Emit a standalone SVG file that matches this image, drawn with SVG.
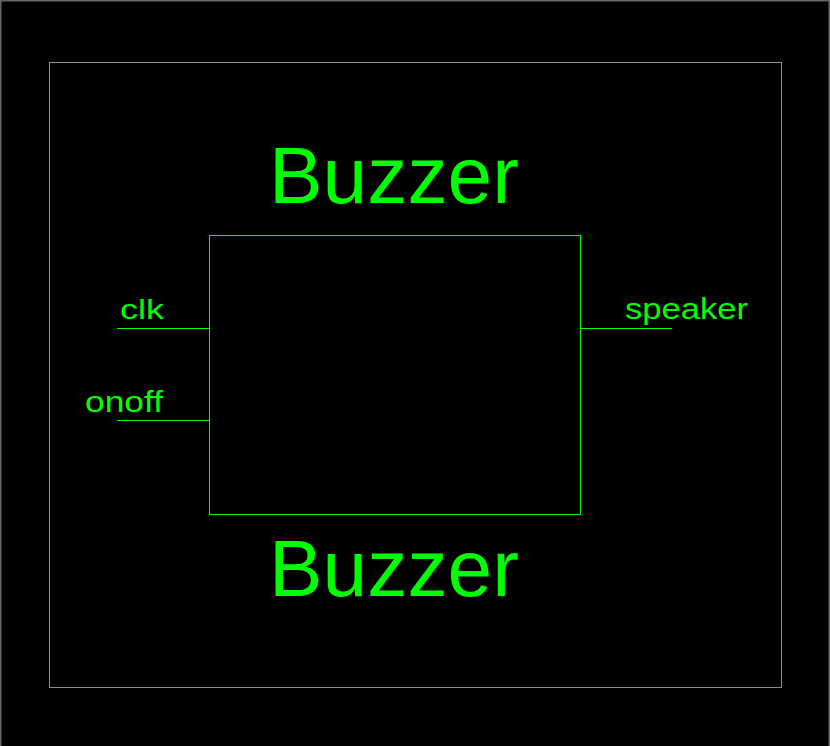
<svg xmlns="http://www.w3.org/2000/svg" width="830" height="746" viewBox="0 0 830 746">
<style>
.g{stroke:#00ff00;stroke-width:1;fill:none}
.t{fill:#00ff00;font-family:"Liberation Sans",Arial,sans-serif}
</style>
<rect x="0" y="0" width="830" height="746" fill="#000"/>
<path d="M0.75,760 V0.75 H829.25 V760" fill="none" stroke="#666" stroke-width="1.5"/>
<rect x="49.5" y="62.5" width="732" height="625" fill="none" stroke="#8c8c8c" stroke-width="1"/>
<g id="buzzer">
<rect class="g" x="209.5" y="235.5" width="371" height="279"/>
<text class="t" x="269" y="203" font-size="79" textLength="250" lengthAdjust="spacingAndGlyphs">Buzzer</text>
<text class="t" x="269" y="596" font-size="79" textLength="250" lengthAdjust="spacingAndGlyphs">Buzzer</text>
</g>
<g id="connectors">
<line class="g" x1="117" y1="328.5" x2="209.5" y2="328.5"/>
<line class="g" x1="117" y1="420.5" x2="209.5" y2="420.5"/>
<line class="g" x1="580.5" y1="328.5" x2="672" y2="328.5"/>
</g>
<g id="port-clk"><text class="t" x="120" y="319" font-size="28" textLength="44" lengthAdjust="spacingAndGlyphs">clk</text></g>
<g id="port-onoff"><text class="t" x="85" y="412" font-size="29" textLength="78" lengthAdjust="spacingAndGlyphs">onoff</text></g>
<g id="port-speaker"><text class="t" x="625" y="318.5" font-size="30" textLength="123" lengthAdjust="spacingAndGlyphs">speaker</text></g>
</svg>
